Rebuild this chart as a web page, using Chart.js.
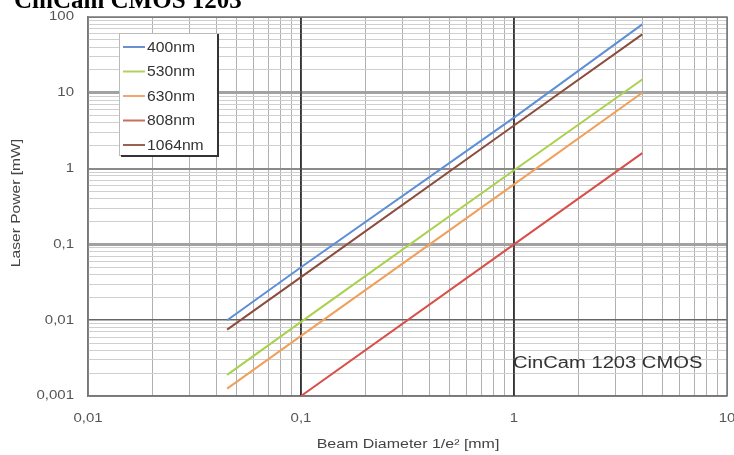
<!DOCTYPE html>
<html>
<head>
<meta charset="utf-8">
<script src="https://cdn.jsdelivr.net/npm/chart.js@4/dist/chart.umd.min.js"></script>
<style>
  html, body { margin: 0; padding: 0; background: #fff; }
  #wrap { width: 734px; height: 455px; }
</style>
</head>
<body>
<div id="wrap"><canvas id="chart" width="734" height="455"></canvas></div>
<script>
// Beam diameter [mm] sample points and laser power [mW]
const diam400 = [0.045, 0.1, 1, 4];
const power400 = [0.01, 0.05, 4.7, 80];
const diam530 = [0.045, 0.1, 1, 4];
const power530 = [0.0019, 0.0095, 0.95, 15];
const diam630 = [0.045, 0.1, 1, 4];
const power630 = [0.00125, 0.0062, 0.62, 10];
const diam808 = [0.1, 1, 4];
const power808 = [0.001, 0.1, 1.6];
const diam1064 = [0.045, 0.1, 1, 4];
const power1064 = [0.0075, 0.037, 3.7, 59];

const seriesLabels = ['400nm', '530nm', '630nm', '808nm', '1064nm'];
const lineColors = ['#5d8fd8', '#a9d14c', '#f0a05a', '#d8504a', '#8c4d3c'];
const legendColors = ['#6b8fd0', '#b4d060', '#f0a870', '#c8705e', '#9a6250'];

const xDecades = [0.01, 0.1, 1, 10];
const yDecades = [0.001, 0.01, 0.1, 1, 10, 100];

const pts = (xs, ys) => xs.map((x, i) => ({ x: x, y: ys[i] }));
const seriesData = [
    pts(diam400, power400),
    pts(diam530, power530),
    pts(diam630, power630),
    pts(diam808, power808),
    pts(diam1064, power1064)
];

// all 1..9 x 10^k ticks between the decades
function logTicks(decades) {
    const ticks = [];
    decades.forEach((d, i) => {
        if (i === decades.length - 1) { ticks.push(d); return; }
        for (let m = 1; m <= 9; m++) ticks.push(+(m * d).toPrecision(3));
    });
    return ticks;
}

const isDecade = v => Math.abs(Math.log10(v) - Math.round(Math.log10(v))) < 1e-6;
const commaLabel = v => String(v).replace('.', ',');
const SANS = '"Liberation Sans", Arial, sans-serif';

// the source image text is a bit wide, so stretch it horizontally
function wideText(ctx, text, x, y, align, sx) {
    ctx.save();
    ctx.translate(x, y);
    ctx.scale(sx, 1);
    ctx.textAlign = align;
    ctx.fillText(text, 0, 0);
    ctx.restore();
}

const overlay = {
    id: 'overlay',
    beforeDraw(chart) {
        const ctx = chart.ctx;
        ctx.save();
        ctx.fillStyle = '#fff';
        ctx.fillRect(0, 0, chart.width, chart.height);
        ctx.restore();
    },
    beforeDatasetsDraw(chart) {
        // dark vertical decade lines on top of the horizontal minor grid
        const ctx = chart.ctx;
        const a = chart.chartArea;
        const xs = chart.scales.x;
        ctx.save();
        ctx.strokeStyle = '#333';
        ctx.lineWidth = 1.5;
        [0.1, 1].forEach(v => {
            const px = Math.round(xs.getPixelForValue(v));
            ctx.beginPath();
            ctx.moveTo(px, a.top);
            ctx.lineTo(px, a.bottom);
            ctx.stroke();
        });
        ctx.restore();
    },
    afterDraw(chart) {
        const ctx = chart.ctx;
        const a = chart.chartArea;
        const xs = chart.scales.x;
        const ys = chart.scales.y;
        ctx.save();

        // frame top/right
        ctx.strokeStyle = '#777';
        ctx.lineWidth = 1.5;
        ctx.beginPath();
        ctx.moveTo(a.left, a.top);
        ctx.lineTo(a.right, a.top);
        ctx.lineTo(a.right, a.bottom);
        ctx.stroke();

        // tick labels
        ctx.fillStyle = '#555';
        ctx.font = '12px ' + SANS;
        ctx.textBaseline = 'middle';
        yDecades.forEach(v => {
            wideText(ctx, commaLabel(v), 74, ys.getPixelForValue(v), 'right', 1.25);
        });
        xDecades.forEach(v => {
            wideText(ctx, commaLabel(v), xs.getPixelForValue(v), 419, 'center', 1.25);
        });

        // heading, cut at top edge
        ctx.fillStyle = '#000';
        ctx.font = 'bold 25px "Liberation Serif", "DejaVu Serif", serif';
        ctx.textAlign = 'left';
        ctx.textBaseline = 'alphabetic';
        ctx.fillText('CinCam CMOS 1203', 14, 8);

        // axis titles
        ctx.fillStyle = '#444';
        ctx.font = '12px ' + SANS;
        ctx.textBaseline = 'middle';
        wideText(ctx, 'Beam Diameter 1/e\u00b2 [mm]', 408, 445, 'center', 1.33);
        ctx.save();
        ctx.translate(17, 203);
        ctx.rotate(-Math.PI / 2);
        wideText(ctx, 'Laser Power [mW]', 0, 0, 'center', 1.3);
        ctx.restore();

        // annotation
        ctx.fillStyle = '#333';
        ctx.font = '16px ' + SANS;
        wideText(ctx, 'CinCam 1203 CMOS', 513, 364, 'left', 1.26);

        // legend box
        const bx = 119, by = 33, bw = 98, bh = 122;
        ctx.fillStyle = '#fff';
        ctx.fillRect(bx, by, bw, bh);
        ctx.strokeStyle = '#bbb';
        ctx.lineWidth = 1;
        ctx.strokeRect(bx + 0.5, by + 0.5, bw, bh);
        ctx.strokeStyle = '#333';
        ctx.lineWidth = 2;
        ctx.beginPath();
        ctx.moveTo(bx + 2, by + bh + 1);
        ctx.lineTo(bx + bw + 1, by + bh + 1);
        ctx.lineTo(bx + bw + 1, by + 1);
        ctx.stroke();

        ctx.font = '14px ' + SANS;
        ctx.textBaseline = 'middle';
        chart.data.datasets.forEach((ds, i) => {
            const yy = by + 14 + i * 24.5;
            ctx.strokeStyle = legendColors[i];
            ctx.lineWidth = 2;
            ctx.beginPath();
            ctx.moveTo(bx + 4, yy);
            ctx.lineTo(bx + 26, yy);
            ctx.stroke();
            ctx.fillStyle = '#333';
            wideText(ctx, ds.label, bx + 28, yy + 1, 'left', 1.12);
        });

        ctx.restore();
    }
};

function hGrid(v) {
    if (v === 10 || v === 0.1) return { c: '#a2a2a2', w: 3 };
    if (v === 1) return { c: '#8a8a8a', w: 2 };
    if (v === 0.01) return { c: '#666', w: 1.5 };
    if (isDecade(v)) return { c: '#888', w: 1 };
    return { c: '#cfcfcf', w: 1 };
}
function vGrid(v) {
    if (v === 0.1 || v === 1) return { c: '#333', w: 1.5 };
    if (isDecade(v)) return { c: '#888', w: 1 };
    return { c: '#b0b0b0', w: 1 };
}

new Chart(document.getElementById('chart'), {
    type: 'scatter',
    data: {
        datasets: seriesLabels.map((lab, i) => ({
            label: lab,
            data: seriesData[i],
            showLine: true,
            borderColor: lineColors[i],
            backgroundColor: lineColors[i],
            borderWidth: 2,
            pointRadius: 0,
            tension: 0
        }))
    },
    options: {
        responsive: false,
        animation: false,
        events: [],
        layout: { padding: { left: 0, top: 17, right: 7, bottom: 0 } },
        plugins: {
            legend: { display: false },
            tooltip: { enabled: false },
            title: { display: false }
        },
        scales: {
            x: {
                type: 'logarithmic',
                min: 0.01,
                max: 10,
                afterBuildTicks: s => { s.ticks = logTicks(xDecades).map(v => ({ value: v })); },
                afterFit: s => { s.height = 59; s.paddingLeft = 0; s.paddingRight = 0; },
                ticks: { display: false, autoSkip: false },
                grid: {
                    drawTicks: false,
                    color: c => vGrid(c.tick.value).c,
                    lineWidth: c => vGrid(c.tick.value).w
                },
                border: { color: '#777', width: 1.5 }
            },
            y: {
                type: 'logarithmic',
                min: 0.001,
                max: 100,
                afterBuildTicks: s => { s.ticks = logTicks(yDecades).map(v => ({ value: v })); },
                afterFit: s => { s.width = 88; s.paddingTop = 0; s.paddingBottom = 0; },
                ticks: { display: false, autoSkip: false },
                grid: {
                    drawTicks: false,
                    color: c => hGrid(c.tick.value).c,
                    lineWidth: c => hGrid(c.tick.value).w
                },
                border: { color: '#777', width: 1.5 }
            }
        }
    },
    plugins: [overlay]
});
</script>
</body>
</html>
